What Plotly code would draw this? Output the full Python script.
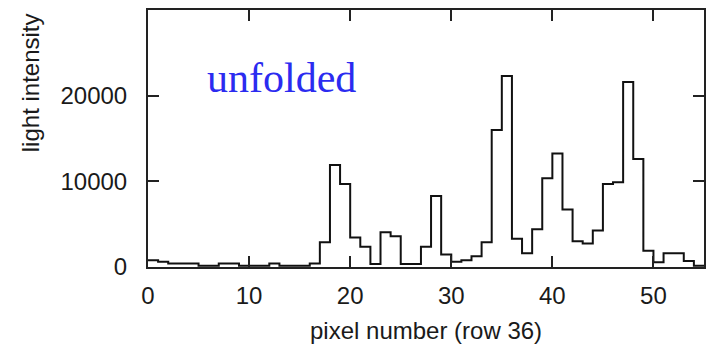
import plotly.graph_objects as go

# bin edges (pixel numbers) and light intensity per pixel (row 36)
pixel_edges = list(range(0, 56))
intensity = [800, 600, 400, 400, 400, 150, 150, 400, 400, 150,
             150, 150, 400, 150, 150, 150, 400, 2900, 11900, 9700,
             3450, 2350, 350, 4050, 3600, 350, 350, 2350, 8300, 1450,
             600, 800, 1250, 2900, 16000, 22300, 3300, 1600, 4400, 10350,
             13250, 6700, 3000, 2750, 4250, 9700, 9900, 21600, 12600, 1900,
             550, 1600, 1600, 700, 150]
x_ticks = [0, 10, 20, 30, 40, 50]
y_ticks = [0, 10000, 20000]
y_tick_labels = ["0", "10000", "20000"]

step_y = intensity + [intensity[-1]]

fig = go.Figure()
fig.add_trace(go.Scatter(
    x=pixel_edges, y=step_y, mode="lines", line_shape="hv",
    line=dict(color="#111111", width=2), showlegend=False, hoverinfo="skip"))

axis_font = dict(family="Liberation Sans, Arial, sans-serif", size=24, color="#1a1a1a")

fig.update_layout(
    width=707, height=350,
    margin=dict(l=148, r=1, t=10, b=83),
    plot_bgcolor="white", paper_bgcolor="white",
    xaxis=dict(range=[0, 55], tickvals=x_ticks, ticks="inside", ticklen=11,
               tickwidth=2, tickcolor="#222222", showline=True, linewidth=2,
               linecolor="#222222", mirror="allticks", showgrid=False,
               zeroline=False, tickfont=axis_font, ticklabelstandoff=6),
    yaxis=dict(range=[0, 30000], tickvals=y_ticks, ticktext=y_tick_labels,
               ticks="inside", ticklen=11,
               tickwidth=2, tickcolor="#222222", showline=True, linewidth=2,
               linecolor="#222222", mirror="ticks", showgrid=False,
               zeroline=False, tickfont=axis_font, ticklabelstandoff=14),
    annotations=[
        dict(text="unfolded", x=5.6, y=22100, xref="x", yref="y",
             xanchor="left", yanchor="middle", showarrow=False,
             font=dict(family="Liberation Serif, Times New Roman, serif",
                       size=42, color="#2b2bf0")),
        dict(text="light intensity", x=-0.21, y=0.716, xref="paper", yref="paper",
             textangle=-90, showarrow=False, xanchor="center", yanchor="middle",
             font=axis_font),
        dict(text="pixel number (row 36)", x=0.5, y=-0.249, xref="paper",
             yref="paper", showarrow=False, xanchor="center", yanchor="middle",
             font=axis_font),
    ],
)

fig.write_html("out.html")
